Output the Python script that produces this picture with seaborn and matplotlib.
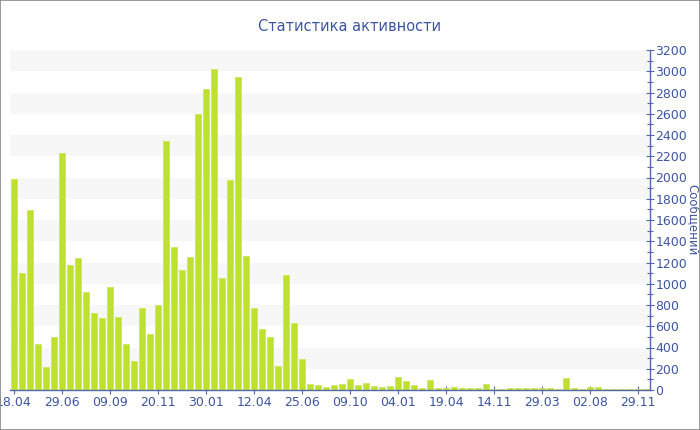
import numpy as np
import pandas as pd
import matplotlib
matplotlib.use("Agg")
import matplotlib.pyplot as plt
import seaborn as sns

# messages per period
bins = list(range(80))
messages = [1990, 1100, 1690, 430, 215, 500, 2230, 1175, 1240, 920,
            725, 677, 970, 687, 433, 273, 772, 527, 800, 2343,
            1345, 1130, 1250, 2600, 2830, 3020, 1055, 1975, 2945, 1260,
            770, 575, 500, 225, 1080, 630, 290, 56, 44, 31,
            44, 53, 103, 50, 66, 35, 25, 41, 126, 85,
            47, 19, 94, 22, 22, 28, 20, 17, 19, 60,
            12, 12, 18, 18, 15, 15, 18, 18, 13, 110,
            22, 13, 28, 28, 13, 13, 13, 13, 13, 10]
tick_labels = ["18.04", "29.06", "09.09", "20.11", "30.01", "12.04", "25.06",
               "09.10", "04.01", "19.04", "14.11", "29.03", "02.08", "29.11"]
tick_step = 6

df = pd.DataFrame({"bin": bins, "messages": messages})

sns.set_theme(style="white")
plt.rcParams['font.family'] = ['DejaVu Sans']

text_col = "#3d55a0"
axis_col = "#5468a8"
bar_col = "#bde031"

fig = plt.figure(figsize=(7, 4.3), dpi=100)
ax = fig.add_axes([10 / 700, 40 / 430, 640 / 700, 340 / 430])

# alternating light bands
for lo in range(200, 3200, 400):
    ax.axhspan(lo, lo + 200, color="#f7f7f7", zorder=0, lw=0)

sns.barplot(data=df, x="bin", y="messages", color=bar_col, width=0.75,
            edgecolor="#cbe85a", linewidth=0.6, saturation=1, ax=ax, zorder=2)

ax.set_xlim(-0.5, len(bins) - 0.5)
ax.set_ylim(0, 3200)
ax.set_xticks(range(0, len(bins), tick_step))
ax.set_xticklabels(tick_labels)
ax.set_yticks(range(0, 3201, 200))
ax.set_yticks(range(100, 3200, 200), minor=True)

ax.yaxis.tick_right()
ax.yaxis.set_label_position("right")
for s in ["top", "left"]:
    ax.spines[s].set_visible(False)
for s in ["bottom", "right"]:
    ax.spines[s].set_color(axis_col)
    ax.spines[s].set_linewidth(1)

ax.tick_params(axis="both", which="major", direction="inout", length=6,
               width=0.8, color=axis_col, labelcolor=text_col, labelsize=9, pad=1)
ax.tick_params(axis="y", which="minor", direction="inout", length=4,
               width=0.8, color=axis_col, right=True, left=False)
ax.tick_params(axis="x", bottom=True)

ax.set_xlabel("")
ax.set_ylabel("Сообщений", color=text_col, fontsize=8.5, rotation=-90,
              ha="center", va="center")
ax.yaxis.set_label_coords((692.5 - 10) / 640, 0.5)
ax.set_facecolor("white")

fig.suptitle("Статистика активности", color=text_col, fontsize=10.5, y=0.955)

fig.patches.append(plt.Rectangle((0, 0), 1, 1, transform=fig.transFigure,
                                 fill=False, edgecolor="#888888", lw=1.2))

fig.savefig("out.png", dpi=100)
